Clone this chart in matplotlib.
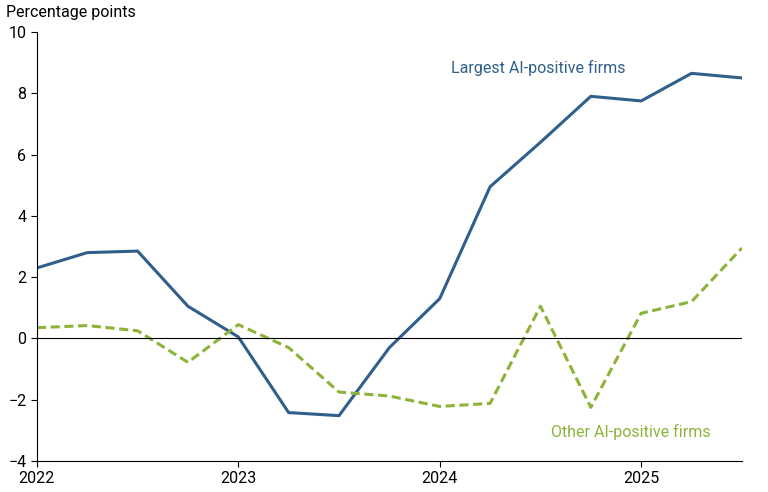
import matplotlib.pyplot as plt
import numpy as np

plt.rcParams['font.family'] = ['Roboto', 'DejaVu Sans']

# quarterly observations, 2022Q1 .. 2025Q3
quarters = 2022 + np.arange(15) * 0.25
largest = [2.3, 2.8, 2.85, 1.05, 0.05, -2.42, -2.52, -0.3, 1.3, 4.95, 6.4, 7.9, 7.75, 8.65, 8.5]
other = [0.35, 0.42, 0.25, -0.78, 0.45, -0.3, -1.75, -1.88, -2.22, -2.12, 1.05, -2.25, 0.82, 1.2, 2.95]
year_ticks = [2022, 2023, 2024, 2025]

BLUE = '#2f5f8a'
GREEN = '#8db33a'

fig = plt.figure(figsize=(7.68, 4.92), dpi=100)
ax = fig.add_axes([0.048, 0.063, 0.918, 0.872])

ax.plot(quarters, largest, color=BLUE, lw=2.2)
ax.plot(quarters, other, color=GREEN, lw=2.2, ls=(0, (3, 1.5)))
ax.axhline(0, color='black', lw=0.8)

ax.set_xlim(2022, 2025.5)
ax.set_ylim(-4, 10)
ax.set_xticks(year_ticks)
ax.set_xticklabels([str(y) for y in year_ticks])
ax.set_yticks(range(-4, 11, 2))
ax.tick_params(labelsize=11.5, length=4, color='black')
for s in ['top', 'right']:
    ax.spines[s].set_visible(False)

ax.text(2024.49, 8.82, 'Largest AI-positive firms', color=BLUE, fontsize=11.5, ha='center', va='center')
ax.text(2024.95, -3.04, 'Other AI-positive firms', color=GREEN, fontsize=11.5, ha='center', va='center')
fig.text(0.008, 0.965, 'Percentage points', fontsize=11.5)

fig.savefig('out.png')
